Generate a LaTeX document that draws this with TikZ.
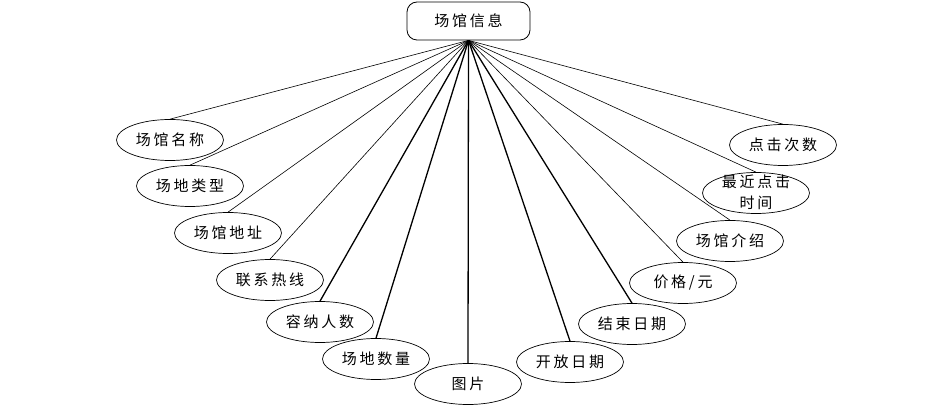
\documentclass[tikz,border=0pt]{standalone}
\usepackage{fontspec}
\usepackage{tikz}
\usetikzlibrary{shapes.geometric}
\newfontfamily\cjk[LetterSpace=18]{Noto Sans CJK SC}

\begin{document}
\begin{tikzpicture}[x=1pt,y=-1pt,
    entity/.style={draw, rounded corners=10pt, minimum width=123pt, minimum height=38pt, inner sep=0pt, font=\cjk\fontsize{15}{18}\selectfont},
    attr/.style={draw, ellipse, line width=0.7pt, minimum width=107pt, minimum height=41pt, inner sep=0pt, font=\cjk\fontsize{15}{18}\selectfont},
    thin link/.style={line width=0.6pt},
    thick link/.style={line width=1.3pt}]
    \useasboundingbox (0,0) rectangle (944,419);

    % entity
    \node[entity, line width=0.8pt] (venue) at (468.5,21) {场馆信息};

    % attributes, left side
    \node[attr] (name) at (170,140) {场馆名称};
    \node[attr] (kind) at (190,186) {场地类型};
    \node[attr] (addr) at (228,233) {场馆地址};
    \node[attr] (phone) at (270,280) {联系热线};
    \node[attr] (capacity) at (320,322) {容纳人数};
    \node[attr] (courts) at (376,359) {场地数量};
    \node[attr] (photo) at (468,384) {图片};

    % attributes, right side
    \node[attr] (open) at (570,362) {开放日期};
    \node[attr] (close) at (632,324) {结束日期};
    \node[attr] (price) at (683,283) {价格/元};
    \node[attr] (intro) at (730,241) {场馆介绍};
    \node[attr] (recent) at (756,193) {};
    \node[font=\cjk\fontsize{15}{21}\selectfont, align=center] (recenttext) at (756,192) {最近点击\\时间};
    \node[attr] (clicks) at (783,145) {点击次数};

    % links
    \foreach \a in {name,kind,addr,phone,price,intro,recent,clicks}
        \draw[thin link] (venue.south) -- (\a.north);
    \foreach \a in {capacity,courts,photo,open,close}
        \draw[thick link] (venue.south) -- (\a.north);
\end{tikzpicture}
\end{document}
